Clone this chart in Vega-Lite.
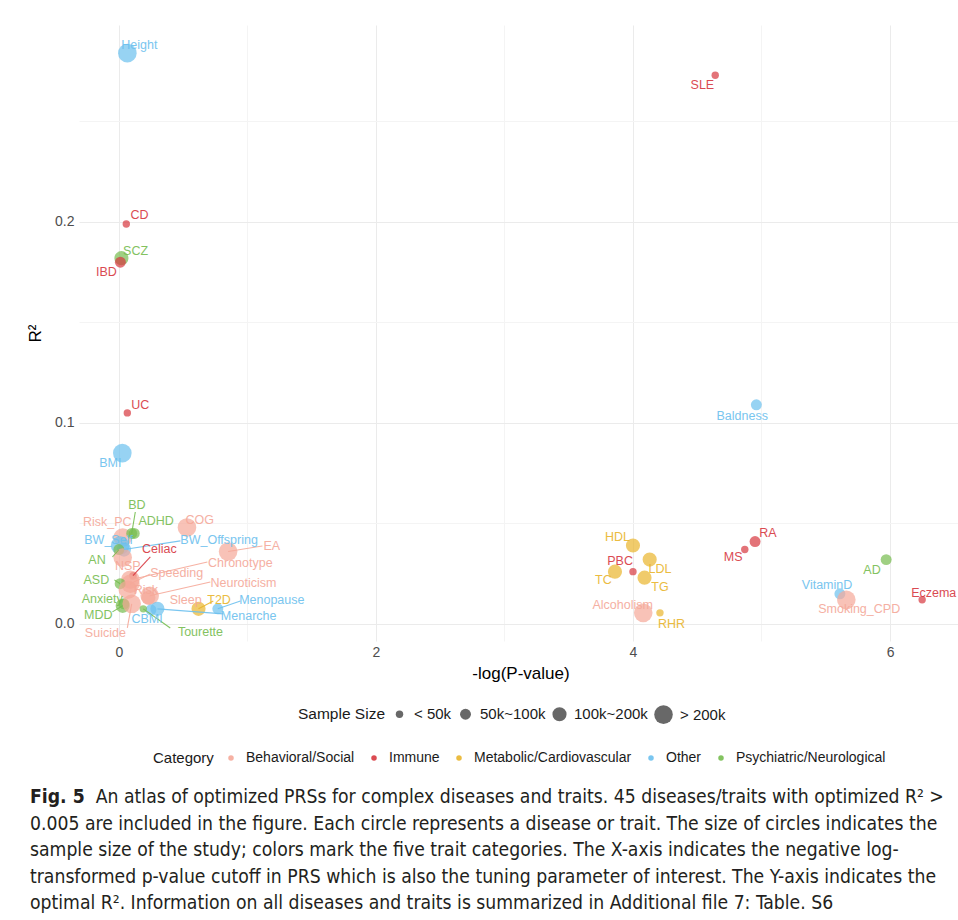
{
  "$schema": "https://vega.github.io/schema/vega-lite/v6.json",
  "width": 883,
  "height": 616,
  "autosize": {"type": "none"},
  "padding": {"left": 79, "top": 25, "right": 0, "bottom": 279},
  "background": "white",
  "config": {
    "view": {"stroke": null},
    "font": "Liberation Sans",
    "axis": {"domain": false, "ticks": false, "labelFont": "Liberation Sans", "labelFontSize": 14, "labelColor": "#4d4d4d", "titleFont": "Liberation Sans", "titleFontSize": 17, "titleFontWeight": "normal", "titleColor": "#000000", "gridColor": "#ebebeb", "gridWidth": 1},
    "legend": {"labelFont": "Liberation Sans", "labelFontSize": 14, "labelColor": "#1a1a1a", "titleFont": "Liberation Sans", "titleFontSize": 15, "titleFontWeight": "normal", "titleColor": "#1a1a1a"}
  },
  "title": {
    "text": "Fig. 5",
    "subtitle": [
      "\u200b\u00a0\u00a0\u00a0\u00a0\u00a0\u00a0\u00a0\u00a0\u00a0\u00a0\u00a0\u00a0An atlas of optimized PRSs for complex diseases and traits. 45 diseases/traits with optimized R\u00b2 >",
      "0.005 are included in the figure. Each circle represents a disease or trait. The size of circles indicates the",
      "sample size of the study; colors mark the five trait categories. The X-axis indicates the negative log-",
      "transformed p-value cutoff in PRS which is also the tuning parameter of interest. The Y-axis indicates the",
      "optimal R\u00b2. Information on all diseases and traits is summarized in Additional file 7: Table. S6"
    ],
    "orient": "bottom",
    "anchor": "start",
    "frame": "group",
    "dx": -49,
    "offset": 22,
    "font": "DejaVu Sans Condensed, Liberation Sans Narrow, Roboto Condensed, sans-serif",
    "fontSize": 19.2,
    "fontWeight": "bold",
    "color": "#231f20",
    "subtitleFont": "DejaVu Sans Condensed, Liberation Sans Narrow, Roboto Condensed, sans-serif",
    "subtitleFontSize": 19.2,
    "subtitleFontWeight": "normal",
    "subtitleColor": "#231f20",
    "subtitleLineHeight": 26.5,
    "subtitlePadding": -19.2
  },
  "data": {
    "values": [
      {"name": "Height", "cat": "Other", "n": "> 200k", "x": 0.066, "y": 0.284, "lx": 0.16, "ly": 0.288},
      {"name": "CD", "cat": "Immune", "n": "< 50k", "x": 0.058, "y": 0.199, "lx": 0.16, "ly": 0.2035},
      {"name": "SCZ", "cat": "Psychiatric/Neurological", "n": "100k~200k", "x": 0.02, "y": 0.182, "lx": 0.13, "ly": 0.1856},
      {"name": "IBD", "cat": "Immune", "n": "50k~100k", "x": 0.012, "y": 0.18, "lx": -0.097, "ly": 0.175},
      {"name": "UC", "cat": "Immune", "n": "< 50k", "x": 0.066, "y": 0.105, "lx": 0.167, "ly": 0.109},
      {"name": "BMI", "cat": "Other", "n": "> 200k", "x": 0.027, "y": 0.085, "lx": -0.066, "ly": 0.08},
      {"name": "SLE", "cat": "Immune", "n": "< 50k", "x": 4.64, "y": 0.273, "lx": 4.54, "ly": 0.268},
      {"name": "Baldness", "cat": "Other", "n": "50k~100k", "x": 4.96, "y": 0.109, "lx": 4.85, "ly": 0.1035},
      {"name": "HDL", "cat": "Metabolic/Cardiovascular", "n": "100k~200k", "x": 4.0, "y": 0.039, "lx": 3.88, "ly": 0.0433},
      {"name": "LDL", "cat": "Metabolic/Cardiovascular", "n": "100k~200k", "x": 4.13, "y": 0.032, "lx": 4.21, "ly": 0.0274},
      {"name": "PBC", "cat": "Immune", "n": "< 50k", "x": 4.0, "y": 0.026, "lx": 3.9, "ly": 0.0313},
      {"name": "TC", "cat": "Metabolic/Cardiovascular", "n": "100k~200k", "x": 3.86, "y": 0.026, "lx": 3.77, "ly": 0.0219},
      {"name": "TG", "cat": "Metabolic/Cardiovascular", "n": "100k~200k", "x": 4.09, "y": 0.023, "lx": 4.21, "ly": 0.0184},
      {"name": "Alcoholism", "cat": "Behavioral/Social", "n": "> 200k", "x": 4.08, "y": 0.0055, "lx": 3.92, "ly": 0.0095},
      {"name": "RHR", "cat": "Metabolic/Cardiovascular", "n": "< 50k", "x": 4.21, "y": 0.0055, "lx": 4.3, "ly": 0.0},
      {"name": "MS", "cat": "Immune", "n": "< 50k", "x": 4.87, "y": 0.037, "lx": 4.78, "ly": 0.0333},
      {"name": "RA", "cat": "Immune", "n": "50k~100k", "x": 4.95, "y": 0.041, "lx": 5.05, "ly": 0.0453},
      {"name": "AD", "cat": "Psychiatric/Neurological", "n": "50k~100k", "x": 5.97, "y": 0.032, "lx": 5.86, "ly": 0.0269},
      {"name": "VitaminD", "cat": "Other", "n": "50k~100k", "x": 5.61, "y": 0.015, "lx": 5.51, "ly": 0.0194},
      {"name": "Smoking_CPD", "cat": "Behavioral/Social", "n": "> 200k", "x": 5.66, "y": 0.012, "lx": 5.76, "ly": 0.0075},
      {"name": "Eczema", "cat": "Immune", "n": "< 50k", "x": 6.25, "y": 0.012, "lx": 6.34, "ly": 0.0154},
      {"name": "COG", "cat": "Behavioral/Social", "n": "> 200k", "x": 0.53, "y": 0.048, "lx": 0.63, "ly": 0.0517},
      {"name": "EA", "cat": "Behavioral/Social", "n": "> 200k", "x": 0.85, "y": 0.036, "lx": 1.19, "ly": 0.0388, "sx": 1.117, "sy": 0.0388},
      {"name": "Risk_PC", "cat": "Behavioral/Social", "n": "> 200k", "x": 0.03, "y": 0.043, "lx": -0.09, "ly": 0.0507},
      {"name": "BW_Self", "cat": "Other", "n": "> 200k", "x": 0.01, "y": 0.039, "lx": -0.08, "ly": 0.0418},
      {"name": "BW_Offspring", "cat": "Other", "n": "100k~200k", "x": 0.04, "y": 0.037, "lx": 0.78, "ly": 0.0418, "sx": 0.479, "sy": 0.0413},
      {"name": "AN", "cat": "Psychiatric/Neurological", "n": "50k~100k", "x": 0.0, "y": 0.037, "lx": -0.17, "ly": 0.0318, "sx": -0.05, "sy": 0.0333},
      {"name": "BD", "cat": "Psychiatric/Neurological", "n": "50k~100k", "x": 0.1, "y": 0.045, "lx": 0.14, "ly": 0.0592, "sx": 0.128, "sy": 0.0557},
      {"name": "ADHD", "cat": "Psychiatric/Neurological", "n": "50k~100k", "x": 0.12, "y": 0.045, "lx": 0.29, "ly": 0.0512},
      {"name": "NSP", "cat": "Behavioral/Social", "n": "> 200k", "x": 0.03, "y": 0.033, "lx": 0.07, "ly": 0.0289},
      {"name": "Celiac", "cat": "Immune", "n": "< 50k", "x": 0.11, "y": 0.024, "lx": 0.315, "ly": 0.0373, "sx": 0.245, "sy": 0.0333},
      {"name": "Chronotype", "cat": "Behavioral/Social", "n": "> 200k", "x": 0.09, "y": 0.022, "lx": 0.945, "ly": 0.0303, "sx": 0.689, "sy": 0.0308},
      {"name": "Speeding", "cat": "Behavioral/Social", "n": "> 200k", "x": 0.09, "y": 0.02, "lx": 0.45, "ly": 0.0254, "sx": 0.245, "sy": 0.0249},
      {"name": "ASD", "cat": "Psychiatric/Neurological", "n": "50k~100k", "x": 0.01, "y": 0.02, "lx": -0.175, "ly": 0.0219, "sx": -0.035, "sy": 0.0219},
      {"name": "Risk", "cat": "Behavioral/Social", "n": "> 200k", "x": 0.07, "y": 0.017, "lx": 0.21, "ly": 0.0169},
      {"name": "Neuroticism", "cat": "Behavioral/Social", "n": "> 200k", "x": 0.24, "y": 0.014, "lx": 0.97, "ly": 0.0204, "sx": 0.712, "sy": 0.0209},
      {"name": "Sleep", "cat": "Behavioral/Social", "n": "100k~200k", "x": 0.23, "y": 0.013, "lx": 0.52, "ly": 0.0119},
      {"name": "Anxiety", "cat": "Psychiatric/Neurological", "n": "50k~100k", "x": 0.04, "y": 0.01, "lx": -0.13, "ly": 0.0124},
      {"name": "MDD", "cat": "Psychiatric/Neurological", "n": "100k~200k", "x": 0.03, "y": 0.009, "lx": -0.16, "ly": 0.0045, "sx": -0.05, "sy": 0.006},
      {"name": "Suicide", "cat": "Behavioral/Social", "n": "> 200k", "x": 0.1, "y": 0.01, "lx": -0.105, "ly": -0.0045, "sx": 0.066, "sy": -0.002},
      {"name": "CBMI", "cat": "Other", "n": "50k~100k", "x": 0.25, "y": 0.007, "lx": 0.22, "ly": 0.0025},
      {"name": "Menarche", "cat": "Other", "n": "100k~200k", "x": 0.3, "y": 0.0075, "lx": 1.01, "ly": 0.004, "sx": 0.813, "sy": 0.005},
      {"name": "Tourette", "cat": "Psychiatric/Neurological", "n": "< 50k", "x": 0.19, "y": 0.0075, "lx": 0.635, "ly": -0.004, "sx": 0.4, "sy": -0.002},
      {"name": "T2D", "cat": "Metabolic/Cardiovascular", "n": "100k~200k", "x": 0.62, "y": 0.0075, "lx": 0.78, "ly": 0.0119, "sx": 0.735, "sy": 0.0114},
      {"name": "Menopause", "cat": "Other", "n": "50k~100k", "x": 0.77, "y": 0.0075, "lx": 1.19, "ly": 0.0119, "sx": 0.946, "sy": 0.0114}
    ]
  },
  "layer": [
    {
      "mark": {"type": "circle", "opacity": 0.7, "strokeWidth": 0},
      "encoding": {
        "x": {"field": "x", "type": "quantitative", "scale": {"domain": [-0.31, 6.56], "nice": false, "zero": false},
              "axis": {"values": [0, 1, 2, 3, 4, 5, 6], "title": "-log(P-value)", "format": "d", "labelPadding": 4, "titlePadding": 6,
                       "labelExpr": "datum.value % 2 === 0 ? datum.label : ''",
                       "gridColor": {"condition": {"test": "datum.value % 2 === 1", "value": "#f4f4f4"}, "value": "#ebebeb"}}},
        "y": {"field": "y", "type": "quantitative", "scale": {"domain": [-0.0085, 0.298], "nice": false, "zero": false},
              "axis": {"values": [0, 0.05, 0.1, 0.15, 0.2, 0.25], "title": "R\u00b2", "format": ".1f", "labelPadding": 5, "titlePadding": 10,
                       "labelExpr": "round(datum.value * 100) % 10 === 0 ? datum.label : ''",
                       "gridColor": {"condition": {"test": "round(datum.value * 100) % 10 === 5", "value": "#f4f4f4"}, "value": "#ebebeb"}}},
        "color": {"field": "cat", "type": "nominal", "title": "Category",
                  "scale": {"domain": ["Behavioral/Social", "Immune", "Metabolic/Cardiovascular", "Other", "Psychiatric/Neurological"],
                            "range": ["#F5A899", "#D7373F", "#E9B52C", "#6BC0EE", "#76BC4F"]},
                  "legend": {"orient": "none", "legendX": 74, "legendY": 726, "direction": "horizontal", "titleOrient": "left", "titlePadding": 10,
                             "symbolType": "circle", "symbolSize": 30, "symbolOpacity": 0.8, "symbolStrokeWidth": 0, "labelOffset": 8, "columnPadding": 12}},
        "size": {"field": "n", "type": "nominal", "title": "Sample Size",
                 "scale": {"type": "ordinal", "domain": ["< 50k", "50k~100k", "100k~200k", "> 200k"], "range": [55, 120, 200, 346]},
                 "legend": {"orient": "none", "legendX": 219, "legendY": 680, "direction": "horizontal", "titleOrient": "left", "titlePadding": 6,
                            "labelFontSize": 15, "titleFontSize": 15.5,
                            "symbolType": "circle", "symbolFillColor": "#4d4d4d", "symbolStrokeWidth": 0, "symbolOpacity": 0.85, "labelOffset": 7, "columnPadding": 6,
                            "encode": {"symbols": {"update": {"fill": {"value": "#4d4d4d"}, "stroke": {"value": "transparent"}}}}}}
      }
    },
    {
      "transform": [{"filter": "isValid(datum.sx)"}],
      "mark": {"type": "rule", "strokeWidth": 1.1, "opacity": 0.9},
      "encoding": {
        "x": {"field": "x", "type": "quantitative"},
        "y": {"field": "y", "type": "quantitative"},
        "x2": {"field": "sx"},
        "y2": {"field": "sy"},
        "color": {"field": "cat", "type": "nominal"}
      }
    },
    {
      "mark": {"type": "text", "font": "Liberation Sans", "fontSize": 12.5, "align": "center", "baseline": "middle", "opacity": 0.9},
      "encoding": {
        "x": {"field": "lx", "type": "quantitative"},
        "y": {"field": "ly", "type": "quantitative"},
        "text": {"field": "name"},
        "color": {"field": "cat", "type": "nominal"}
      }
    }
  ]
}
